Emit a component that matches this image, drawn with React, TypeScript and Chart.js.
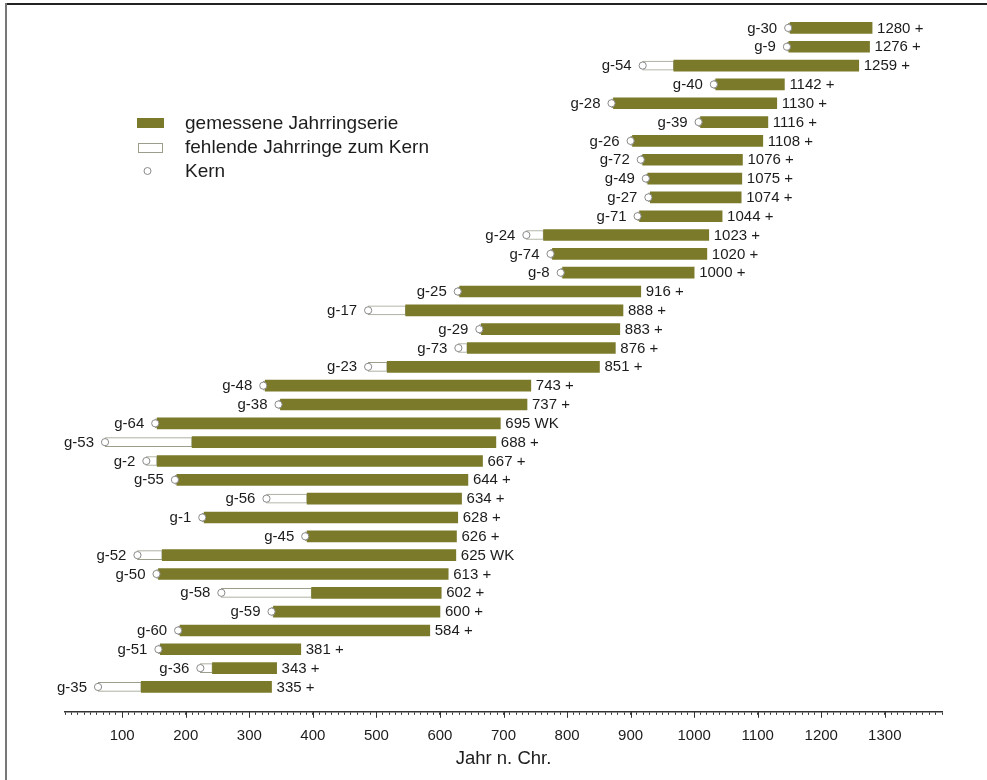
import React, { useEffect, useRef } from "react";
import { Chart, registerables } from "chart.js";

Chart.register(...registerables);

// ---- data ----
const sampleNames = [
  "g-30", "g-9", "g-54", "g-40", "g-28", "g-39", "g-26", "g-72", "g-49", "g-27", "g-71",
  "g-24", "g-74", "g-8", "g-25", "g-17", "g-29", "g-73", "g-23", "g-48", "g-38", "g-64",
  "g-53", "g-2", "g-55", "g-56", "g-1", "g-45", "g-52", "g-50", "g-58", "g-59", "g-60",
  "g-51", "g-36", "g-35",
];
// estimated year of the pith (Kern)
const pithYears = [
  1148, 1146, 919, 1031, 870, 1007, 900, 916, 924, 928, 911,
  736, 774, 790, 628, 487, 662, 629, 487, 322, 346, 152,
  73, 138, 183, 327, 226, 388, 124, 154, 256, 335, 188,
  157, 223, 62,
];
// first measured ring
const measuredStart = [
  1151, 1149, 968, 1034, 873, 1010, 903, 919, 927, 931, 914,
  763, 777, 793, 631, 546, 665, 643, 517, 325, 349, 155,
  210, 155, 186, 391, 229, 391, 163, 157, 398, 338, 191,
  160, 242, 130,
];
// last measured ring (label value)
const endYears = [
  1280, 1276, 1259, 1142, 1130, 1116, 1108, 1076, 1075, 1074, 1044,
  1023, 1020, 1000, 916, 888, 883, 876, 851, 743, 737, 695,
  688, 667, 644, 634, 628, 626, 625, 613, 602, 600, 584,
  381, 343, 335,
];
const endMarks = [
  "+", "+", "+", "+", "+", "+", "+", "+", "+", "+", "+",
  "+", "+", "+", "+", "+", "+", "+", "+", "+", "+", "WK",
  "+", "+", "+", "+", "+", "+", "WK", "+", "+", "+", "+",
  "+", "+", "+",
];
const xMin = 10;
const xMax = 1390;
const xMinorStep = 10;
const xMajorStep = 100;
const xTitle = "Jahr n. Chr.";
const legendLabels = ["gemessene Jahrringserie", "fehlende Jahrringe zum Kern", "Kern"];

// ---- styles ----
const OLIVE = "#7b7a2b";
const TEXT = "#1c1c1c";
const FONT = '"Liberation Sans", Arial, Helvetica, sans-serif';

const labelPlugin = {
  id: "rowLabels",
  afterDatasetsDraw(chart: any) {
    const { ctx } = chart;
    const xs = chart.scales.x;
    const ys = chart.scales.y;
    ctx.save();
    ctx.fillStyle = TEXT;
    ctx.font = `15px ${FONT}`;
    ctx.textBaseline = "middle";
    sampleNames.forEach((name, i) => {
      const py = ys.getPixelForValue(i) + 0.5;
      ctx.textAlign = "right";
      ctx.fillText(name, xs.getPixelForValue(pithYears[i]) - 11, py);
      ctx.textAlign = "left";
      ctx.fillText(`${endYears[i]} ${endMarks[i]}`, xs.getPixelForValue(endYears[i]) + 5, py);
    });
    ctx.restore();
  },
};

const majorTickPlugin = {
  id: "majorTicks",
  afterDraw(chart: any) {
    const { ctx } = chart;
    const xs = chart.scales.x;
    const bottom = chart.chartArea.bottom;
    ctx.save();
    ctx.strokeStyle = "#333";
    ctx.lineWidth = 1;
    xs.ticks.forEach((t: any) => {
      if (t.value % xMajorStep === 0) {
        const px = Math.round(xs.getPixelForValue(t.value)) + 0.5;
        ctx.beginPath();
        ctx.moveTo(px, bottom);
        ctx.lineTo(px, bottom + 6);
        ctx.stroke();
      }
    });
    ctx.restore();
  },
};

const legendPlugin = {
  id: "customLegend",
  afterDraw(chart: any) {
    const { ctx } = chart;
    ctx.save();
    ctx.fillStyle = OLIVE;
    ctx.fillRect(137, 118, 27, 10);
    ctx.fillStyle = "#fff";
    ctx.strokeStyle = "#9a9f8c";
    ctx.lineWidth = 1;
    ctx.fillRect(138.5, 143.5, 24, 9);
    ctx.strokeRect(138.5, 143.5, 24, 9);
    ctx.beginPath();
    ctx.arc(147.5, 171, 3.5, 0, Math.PI * 2);
    ctx.fill();
    ctx.strokeStyle = "#8a8a8a";
    ctx.stroke();
    ctx.fillStyle = TEXT;
    ctx.font = `19px ${FONT}`;
    ctx.textAlign = "left";
    ctx.textBaseline = "middle";
    ctx.fillText(legendLabels[0], 185, 124);
    ctx.fillText(legendLabels[1], 185, 148);
    ctx.fillText(legendLabels[2], 185, 172);
    ctx.restore();
  },
};

export default function App() {
  const canvasRef = useRef<HTMLCanvasElement | null>(null);

  useEffect(() => {
    if (!canvasRef.current) return;
    const chart = new Chart(canvasRef.current, {
      type: "bar",
      data: {
        datasets: [
          {
            type: "scatter",
            label: legendLabels[2],
            data: sampleNames.map((_, i) => ({ x: pithYears[i], y: i })),
            pointRadius: 3.6,
            pointBackgroundColor: "#ffffff",
            pointBorderColor: "#8a8a8a",
            pointBorderWidth: 1,
            order: 1,
          } as any,
          {
            type: "bar",
            label: legendLabels[0],
            indexAxis: "y",
            data: sampleNames.map((_, i) => ({ y: i, x: [measuredStart[i], endYears[i]] })),
            backgroundColor: OLIVE,
            borderWidth: 0,
            barThickness: 11,
            grouped: false,
            order: 2,
          } as any,
          {
            type: "bar",
            label: legendLabels[1],
            indexAxis: "y",
            data: sampleNames.map((_, i) => ({ y: i, x: [pithYears[i], measuredStart[i]] })),
            backgroundColor: "#ffffff",
            borderColor: "#9a9f8c",
            borderWidth: 1,
            borderSkipped: false,
            barThickness: 9,
            grouped: false,
            order: 3,
          } as any,
        ],
      },
      options: {
        animation: false,
        responsive: true,
        maintainAspectRatio: false,
        layout: { padding: { left: 65, right: 45, top: 18.5, bottom: 10 } },
        plugins: {
          legend: { display: false },
          tooltip: { enabled: false },
        },
        scales: {
          x: {
            type: "linear",
            position: "bottom",
            offset: false,
            min: xMin,
            max: xMax,
            grid: {
              display: true,
              offset: false,
              drawOnChartArea: false,
              drawTicks: true,
              tickLength: 3,
              tickColor: "#333",
              tickWidth: 1,
            },
            border: { display: true, color: "#333", width: 1.5 },
            ticks: {
              stepSize: xMinorStep,
              autoSkip: false,
              maxRotation: 0,
              minRotation: 0,
              padding: 12,
              color: TEXT,
              font: { family: FONT, size: 15 },
              callback: (v: any) => (Number(v) % xMajorStep === 0 ? String(v) : ""),
            },
            title: {
              display: true,
              text: xTitle,
              color: TEXT,
              font: { family: FONT, size: 18.5 },
              padding: { top: -9, bottom: 0 },
            },
          },
          y: {
            type: "linear",
            display: false,
            offset: false,
            grid: { offset: false },
            reverse: true,
            min: -0.5,
            max: 36.32,
          },
        },
      } as any,
      plugins: [labelPlugin, majorTickPlugin, legendPlugin],
    });
    return () => chart.destroy();
  }, []);

  return (
    <div style={{ position: "fixed", left: 0, top: 0, width: 987, height: 780, background: "#fff" }}>
      <canvas ref={canvasRef} />
      <div style={{ position: "absolute", left: 5, top: 3, width: 982, height: 2, background: "#222" }} />
      <div style={{ position: "absolute", left: 5, top: 3, width: 2, height: 777, background: "#777" }} />
    </div>
  );
}
